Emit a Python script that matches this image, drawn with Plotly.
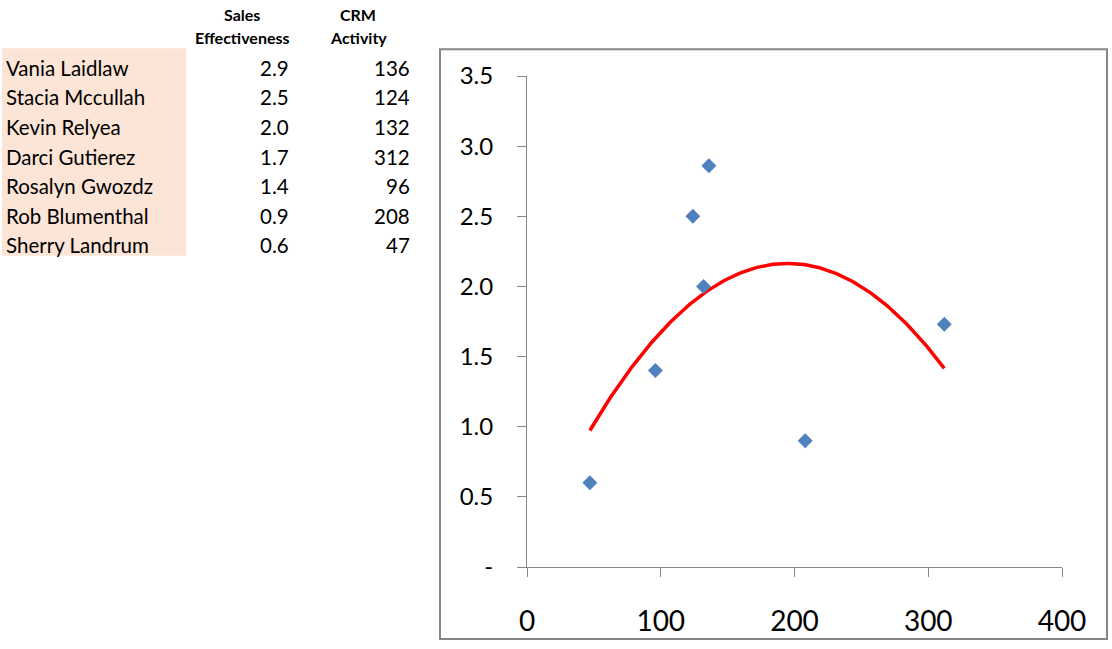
import numpy as np
import plotly.graph_objects as go

# ---- data ----
names = ["Vania Laidlaw", "Stacia Mccullah", "Kevin Relyea", "Darci Gutierez",
         "Rosalyn Gwozdz", "Rob Blumenthal", "Sherry Landrum"]
sales_effectiveness = [2.86, 2.5, 2.0, 1.73, 1.4, 0.9, 0.6]
crm_activity = [136, 124, 132, 312, 96, 208, 47]
header_sales = ["Sales", "Effectiveness"]
header_crm = ["CRM", "Activity"]
y_tickvals = [0, 0.5, 1.0, 1.5, 2.0, 2.5, 3.0, 3.5]
y_ticktext = ["-", "0.5", "1.0", "1.5", "2.0", "2.5", "3.0", "3.5"]
x_tickvals = [0, 100, 200, 300, 400]

# ---- layout geometry (pixels, window coordinates) ----
W, H = 1112, 649
PL, PR, PT, PB = 527, 1062, 76, 573  # plot area edges


def px(x):
    return (x - PL) / (PR - PL)


def py(y):
    return (PB - y) / (PB - PT)


FONT = "Lato, 'Open Sans', sans-serif"

# polynomial (order 2) trendline from the data
coef = np.polyfit(crm_activity, sales_effectiveness, 2)
tx = np.linspace(min(crm_activity), max(crm_activity), 200)
ty = np.polyval(coef, tx)

fig = go.Figure()
fig.add_trace(go.Scatter(x=tx, y=ty, mode="lines",
                         line=dict(color="#FF0000", width=3.5),
                         hoverinfo="skip", showlegend=False))
fig.add_trace(go.Scatter(x=crm_activity, y=sales_effectiveness, mode="markers",
                         marker=dict(symbol="diamond", size=11.5, color="#4F81BD",
                                     line=dict(width=0)),
                         showlegend=False))

shapes = []
# chart border
shapes.append(dict(type="rect", xref="paper", yref="paper",
                   x0=px(440), x1=px(1107), y0=py(49), y1=py(646),
                   line=dict(color="#868686", width=2), fillcolor="rgba(0,0,0,0)",
                   layer="below"))
# peach name cells
shapes.append(dict(type="rect", xref="paper", yref="paper",
                   x0=px(2), x1=px(186), y0=py(48), y1=py(258),
                   line=dict(width=0), fillcolor="#FCE4D6", layer="below"))

annotations = []
for hdr, xc in ((header_sales, 242), (header_crm, 358)):
    for j, word in enumerate(hdr):
        annotations.append(dict(text="<b>" + word + "</b>",
                                xref="paper", yref="paper", x=px(xc), y=py(14 + 23 * j),
                                xanchor="center", yanchor="middle", showarrow=False,
                                font=dict(family=FONT, size=16, color="black")))
for i, (n, s, c) in enumerate(zip(names, sales_effectiveness, crm_activity)):
    yc = 67.5 + 30 * i
    annotations.append(dict(text=n, xref="paper", yref="paper", x=px(4), y=py(yc),
                            xanchor="left", yanchor="middle", showarrow=False,
                            font=dict(family=FONT, size=20.5, color="black")))
    annotations.append(dict(text=f"{s:.1f}", xref="paper", yref="paper", x=px(291), y=py(yc),
                            xanchor="right", yanchor="middle", showarrow=False,
                            font=dict(family=FONT, size=20.5, color="black")))
    annotations.append(dict(text=f"{c}", xref="paper", yref="paper", x=px(412), y=py(yc),
                            xanchor="right", yanchor="middle", showarrow=False,
                            font=dict(family=FONT, size=20.5, color="black")))

fig.update_layout(
    width=W, height=H,
    margin=dict(l=PL, r=W - PR, t=PT, b=H - PB, pad=0),
    paper_bgcolor="white", plot_bgcolor="white",
    shapes=shapes, annotations=annotations,
    xaxis=dict(range=[0, 400], tickvals=x_tickvals, showgrid=False, zeroline=False,
               showline=True, linecolor="#868686", linewidth=1,
               ticks="outside", ticklen=9, tickcolor="#868686", tickwidth=1,
               tickfont=dict(family=FONT, size=28, color="black"),
               ticklabelstandoff=20, fixedrange=True),
    yaxis=dict(range=[0, 3.5], tickvals=y_tickvals, ticktext=y_ticktext,
               showgrid=False, zeroline=False,
               showline=True, linecolor="#868686", linewidth=1,
               ticks="outside", ticklen=9, tickcolor="#868686", tickwidth=1,
               tickfont=dict(family=FONT, size=24, color="black"),
               ticklabelstandoff=19, fixedrange=True),
    hovermode=False,
)

fig.write_html("out.html", config={"displayModeBar": False},
               post_script="document.body.style.margin='0';document.body.style.overflow='hidden';")
